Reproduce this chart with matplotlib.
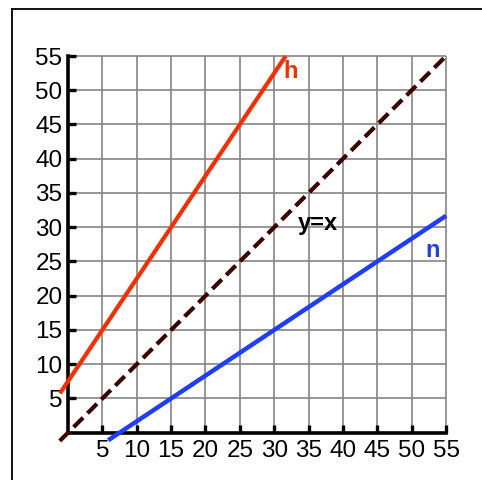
import matplotlib

matplotlib.use("Agg")
import matplotlib.pyplot as plt
from matplotlib.lines import Line2D

plt.rcParams["font.family"] = ["Liberation Sans", "DejaVu Sans"]

# values
ticks = [5, 10, 15, 20, 25, 30, 35, 40, 45, 50, 55]
grid_max = 55

h_x = [-1.17, 31.67]
h_y = [5.75, 55.0]
n_x = [5.85, 55.0]
n_y = [-1.1, 31.67]
id_x = [-1.2, 55.0]
id_y = [-1.2, 55.0]

labels = [
    ("h", 32.4, 52.8, "#ff2a00"),
    ("y=x", 36.3, 30.6, "#000000"),
    ("n", 53.1, 26.6, "#1f3cff"),
]

fig = plt.figure(figsize=(4.82, 4.80), dpi=100)
ax = fig.add_axes([0.1126, 0.0700, 0.8271, 0.8276])
ax.set_xlim(-2, 56)
ax.set_ylim(-2, 56)

# grid only over the first quadrant
ax.vlines(ticks, 0, grid_max, color="#858585", lw=1.2, zorder=1)
ax.hlines(ticks, 0, grid_max, color="#858585", lw=1.2, zorder=1)

ax.plot(h_x, h_y, color="#ff2a00", lw=3.0, solid_capstyle="butt", zorder=3)
ax.plot(n_x, n_y, color="#1f3cff", lw=3.2, solid_capstyle="butt", zorder=3)
ax.plot(id_x, id_y, color="#3c0000", lw=3.0, dashes=(3.2, 1.5), zorder=3)

for txt, x, y, c in labels:
    ax.text(x, y, txt, color=c, fontsize=17, fontweight="bold",
            ha="center", va="center", zorder=4)

for side in ("top", "right"):
    ax.spines[side].set_visible(False)
for side in ("left", "bottom"):
    ax.spines[side].set_position(("data", 0))
    ax.spines[side].set_bounds(0, grid_max)
    ax.spines[side].set_linewidth(2.6)
    ax.spines[side].set_zorder(2)

ax.set_xticks(ticks)
ax.set_yticks(ticks)
ax.set_xticklabels([str(t) for t in ticks])
ax.set_yticklabels([str(t) for t in ticks])
ax.tick_params(direction="in", length=6, width=2.4, labelsize=17.5,
               colors="black")
ax.tick_params(axis="x", pad=5)
ax.tick_params(axis="y", pad=4)
ax.patch.set_visible(False)

# frame lines of the surrounding box (left and top)
fig.add_artist(Line2D([12 / 482, 12 / 482], [0, 1 - 9 / 480],
                      transform=fig.transFigure, color="black", lw=1.3))
fig.add_artist(Line2D([12 / 482, 1], [1 - 9 / 480, 1 - 9 / 480],
                      transform=fig.transFigure, color="black", lw=1.3))

fig.savefig("out.png", dpi=100)
